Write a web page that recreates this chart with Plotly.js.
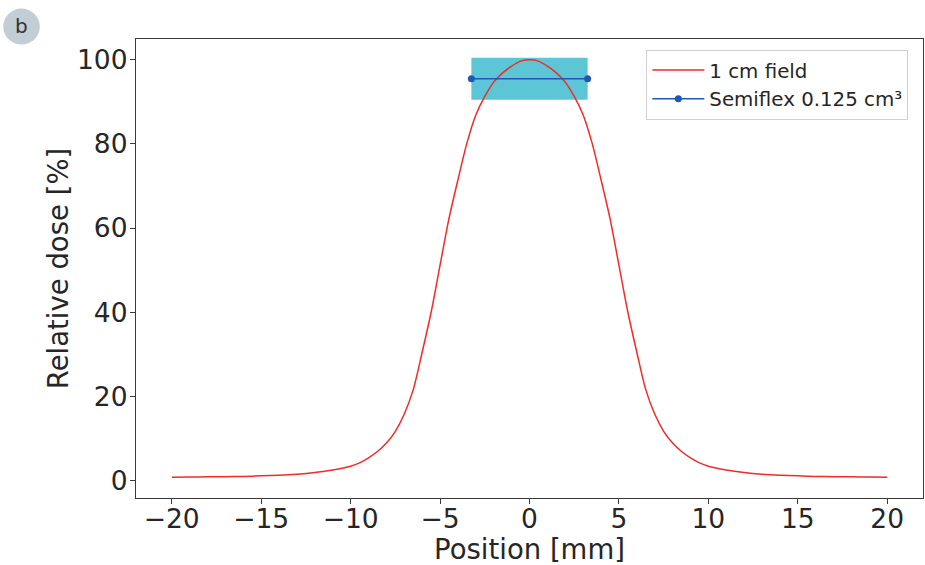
<!DOCTYPE html>
<html>
<head>
<meta charset="utf-8">
<script src="https://cdn.plot.ly/plotly-3.0.1.min.js"></script>
<style>html,body{margin:0;padding:0;background:#fff;}#chart{width:925px;height:565px;}</style>
</head>
<body>
<div id="chart"></div>
<script>
// 1 cm field profile
const positionMm = [-20,-19,-18,-17,-16,-15,-14,-13,-12,-11,-10,-9.5,-9,-8.5,-8,-7.5,-7,-6.5,-6,-5.5,-5,-4.5,-4,-3.5,-3,-2.5,-2,-1.5,-1,-0.5,
  0,0.5,1,1.5,2,2.5,3,3.5,4,4.5,5,5.5,6,6.5,7,7.5,8,8.5,9,9.5,10,11,12,13,14,15,16,17,18,19,20];
const relDose = [0.8,0.83,0.87,0.92,0.98,1.1,1.25,1.5,1.9,2.5,3.4,4.2,5.4,6.9,8.9,11.7,15.8,21.6,30.5,40.0,51.2,62.3,71.5,80.2,86.9,91.3,94.7,96.9,98.5,99.7,
  100,99.7,98.5,96.9,94.7,91.3,86.9,80.2,71.5,62.3,51.2,40.0,30.5,21.6,15.8,11.7,8.9,6.9,5.4,4.2,3.4,2.5,1.9,1.5,1.25,1.1,0.98,0.92,0.87,0.83,0.8];

// Semiflex 0.125 cm3 chamber: extent and reading
const chamberX = [-3.25, 3.25];
const chamberDose = [95.5, 95.5];
const chamberBand = 5;

const xTicks = [-20,-15,-10,-5,0,5,10,15,20];
const yTicks = [0,20,40,60,80,100];

const bandX = [chamberX[0], chamberX[1], chamberX[1], chamberX[0], chamberX[0]];
const bandY = [chamberDose[0]-chamberBand, chamberDose[1]-chamberBand, chamberDose[1]+chamberBand, chamberDose[0]+chamberBand, chamberDose[0]-chamberBand];

const font = "DejaVu Sans, sans-serif";
const textColor = "#262626";

const traces = [
  {x: bandX, y: bandY, type: 'scatter', mode: 'lines', fill: 'toself', fillcolor: '#5cc6d6',
   line: {width: 0, color: '#5cc6d6'}, showlegend: false, hoverinfo: 'skip'},
  {x: positionMm, y: relDose, type: 'scatter', mode: 'lines', name: '1 cm field',
   line: {color: '#f22a2a', width: 1.5, shape: 'spline', smoothing: 0.8}},
  {x: chamberX, y: chamberDose, type: 'scatter', mode: 'lines+markers', name: 'Semiflex 0.125 cm³',
   line: {color: '#1f58b4', width: 1.5}, marker: {color: '#1f58b4', size: 7}}
];

const L = 135.5, R = 922.7, T = 38.7, B = 498;
const W = 925, H = 565;
const pw = R - L, ph = B - T;
function px2x(p){ return (p - L) / pw; }
function py2y(p){ return (B - p) / ph; }

const layout = {
  width: W, height: H,
  margin: {l: L, r: W - R, t: T, b: H - B, pad: 0},
  paper_bgcolor: '#fff', plot_bgcolor: '#fff',
  font: {family: font, color: textColor},
  showlegend: true,
  legend: {x: px2x(646), y: py2y(49.3), xanchor: 'left', yanchor: 'top',
    bgcolor: 'rgba(255,255,255,0.9)', bordercolor: '#d0d0d0', borderwidth: 1,
    itemwidth: 52, tracegroupgap: 0,
    font: {family: font, size: 19.8, color: textColor}},
  xaxis: {range: [-22, 22], tickvals: xTicks, ticktext: xTicks.map(v => v < 0 ? '\u2212' + Math.abs(v) : String(v)),
    showgrid: false, zeroline: false, showline: true, linecolor: '#3a3a3a', linewidth: 1.2, mirror: true,
    ticks: 'outside', ticklen: 5, tickwidth: 1, tickcolor: '#3a3a3a', ticklabelstandoff: -8,
    tickfont: {family: font, size: 26.5, color: textColor},
    title: {text: 'Position [mm]', font: {family: font, size: 27.5, color: textColor}, standoff: 3}},
  yaxis: {range: [-4.16, 104.96], tickvals: yTicks,
    showgrid: false, zeroline: false, showline: true, linecolor: '#3a3a3a', linewidth: 1.2, mirror: true,
    ticks: 'outside', ticklen: 5, tickwidth: 1, tickcolor: '#3a3a3a', ticklabelstandoff: -3,
    tickfont: {family: font, size: 26.5, color: textColor},
    title: {text: 'Relative dose [%]', font: {family: font, size: 27.5, color: textColor}, standoff: 0}},
  shapes: [
    {type: 'circle', xref: 'paper', yref: 'paper', x0: px2x(2.7), x1: px2x(39.3), y0: py2y(44.3), y1: py2y(8.3),
     fillcolor: '#c3cdd5', line: {width: 0}, layer: 'above'}
  ],
  annotations: [
    {text: 'b', xref: 'paper', yref: 'paper', x: px2x(21), y: py2y(25.5), xanchor: 'center', yanchor: 'middle',
     showarrow: false, font: {family: font, size: 20, color: '#333'}}
  ]
};

Plotly.newPlot('chart', traces, layout, {displayModeBar: false, staticPlot: true});
</script>
</body>
</html>
